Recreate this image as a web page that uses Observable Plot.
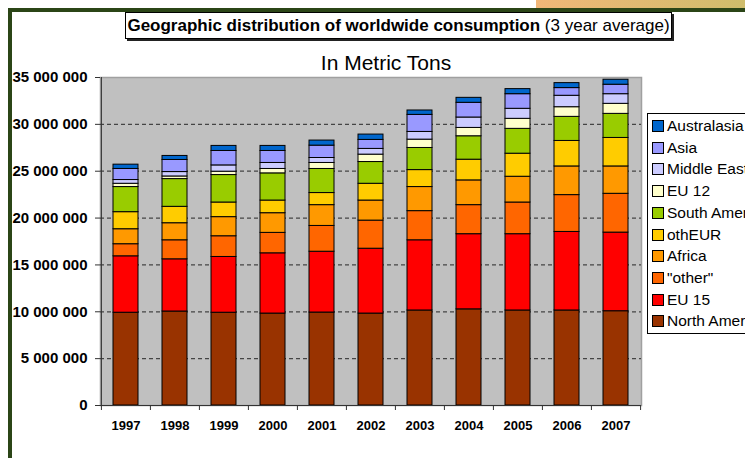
<!DOCTYPE html>
<html><head><meta charset="utf-8">
<script src="https://cdn.jsdelivr.net/npm/d3@7"></script>
<script src="https://cdn.jsdelivr.net/npm/@observablehq/plot@0.6"></script>
<style>
html,body{margin:0;padding:0;background:#fff;overflow:hidden;}
#wrap{position:relative;width:745px;height:458px;overflow:hidden;font-family:"Liberation Sans",Arial,sans-serif;color:#000;}
#wrap svg{position:absolute;left:0;top:0;}
#wrap svg text{font-weight:bold;}
.abs{position:absolute;}
#grad{left:536px;top:0;width:209px;height:8px;background:linear-gradient(to right,#F1B778,#CFBD6C);}
#ftop{left:8px;top:8px;width:737px;height:4px;background:#2B4517;}
#fleft{left:8px;top:8px;width:4px;height:450px;background:#2B4517;}
#title{left:125px;top:12px;width:545px;height:25px;border:1px solid #000;background:#fff;box-shadow:2px 2px 0 #222;font-size:17px;line-height:25px;text-align:center;white-space:nowrap;}
#sub{left:250px;top:50px;width:272px;text-align:center;font-size:21px;line-height:26px;}
#legend{left:647px;top:113px;width:120px;height:219px;border:1px solid #000;background:#fff;}
.item{position:absolute;left:0;height:18px;white-space:nowrap;font-size:15.5px;line-height:18px;}
.sw{position:absolute;left:4px;top:3px;width:10px;height:10px;border:1px solid #000;}
.lab{position:absolute;left:19px;top:0;}
</style></head><body><div id="wrap"></div>
<script>
const years = ["1997","1998","1999","2000","2001","2002","2003","2004","2005","2006","2007"];
// values in millions of metric tons
const northAmerica = [9.90, 10.03, 9.90, 9.81, 9.92, 9.81, 10.14, 10.26, 10.14, 10.14, 10.06];
const eu15         = [6.02, 5.57, 5.95, 6.43, 6.49, 6.92, 7.49, 8.02, 8.14, 8.38, 8.39];
const other        = [1.29, 2.03, 2.21, 2.18, 2.75, 3.00, 3.11, 3.10, 3.38, 3.93, 4.14];
const africa       = [1.60, 1.82, 2.04, 2.10, 2.22, 2.14, 2.57, 2.64, 2.75, 3.06, 2.92];
const othEUR       = [1.82, 1.75, 1.56, 1.35, 1.29, 1.79, 1.81, 2.21, 2.46, 2.72, 3.04];
const southAmerica = [2.68, 2.96, 2.93, 2.90, 2.57, 2.32, 2.36, 2.50, 2.65, 2.57, 2.57];
const eu12         = [0.35, 0.28, 0.36, 0.47, 0.64, 0.79, 0.89, 0.89, 1.07, 1.03, 1.07];
const middleEast   = [0.40, 0.47, 0.67, 0.64, 0.53, 0.61, 0.82, 1.11, 1.07, 1.22, 1.03];
const asia         = [1.18, 1.29, 1.54, 1.28, 1.32, 0.96, 1.82, 1.57, 1.56, 0.82, 1.01];
const australasia  = [0.46, 0.43, 0.54, 0.54, 0.54, 0.57, 0.47, 0.53, 0.54, 0.53, 0.53];

// legend order (top to bottom)
const regions = ["Australasia","Asia","Middle East","EU 12","South America","othEUR","Africa","\"other\"","EU 15","North America"];
const colors  = ["#0066CC","#9999FF","#CCCCFF","#FFFFCC","#99CC00","#FFCC00","#FF9900","#FF6600","#FF0000","#993300"];
const seriesValues = [australasia, asia, middleEast, eu12, southAmerica, othEUR, africa, other, eu15, northAmerica];
const yTicks = [0, 5e6, 10e6, 15e6, 20e6, 25e6, 30e6, 35e6];

const title = "Geographic distribution of worldwide consumption";
const titleNote = "(3 year average)";
const subtitle = "In Metric Tons";

// build long table, bottom series first
const table = [];
for (let s = regions.length - 1; s >= 0; s--) {
  years.forEach((yr, i) => table.push({year: yr, region: regions[s], value: seriesValues[s][i] * 1e6}));
}

const W = 745, H = 458, mL = 100, mR = 104, mT = 77, mB = 53;
const step = (W - mL - mR) / years.length;
const fmt = d => d3.format(",")(d).replace(/,/g, " ");

const chart = Plot.plot({
  width: W, height: H,
  marginLeft: mL, marginRight: mR, marginTop: mT, marginBottom: mB,
  style: {background: "transparent", fontFamily: "Liberation Sans, Arial, sans-serif", overflow: "visible"},
  x: {type: "band", domain: years, paddingInner: 0.49, paddingOuter: 0.245, axis: null, label: null},
  y: {domain: [0, 35e6], axis: null, label: null},
  color: {domain: regions, range: colors},
  marks: [
    Plot.frame({fill: "#C0C0C0", stroke: "#A0A0A0", strokeWidth: 1.5}),
    Plot.gridY(yTicks.filter(d => d > 0 && d < 35e6), {stroke: "#444", strokeOpacity: 1, strokeWidth: 1.3, strokeDasharray: "4,3"}),
    Plot.barY(table, Plot.stackY({x: "year", y: "value", fill: "region", stroke: "#000", strokeWidth: 1})),
    Plot.ruleY([0], {stroke: "#333", strokeWidth: 1}),
    Plot.ruleX([years[0]], {dx: -step / 2, stroke: "#333", strokeWidth: 1}),
    Plot.axisY({ticks: yTicks, tickSize: 5, tickPadding: 8, tickFormat: fmt, fontSize: 15, fontWeight: "bold", stroke: "#333", fill: "#000", label: null}),
    Plot.axisX({tickSize: 0, tickPadding: 15, fontSize: 13, fontWeight: "bold", fill: "#000", label: null}),
    Plot.axisX({tickSize: 5, tickFormat: () => "", dx: -step / 2, stroke: "#333", label: null}),
    Plot.axisX([years[years.length - 1]], {tickSize: 5, tickFormat: () => "", dx: step / 2, stroke: "#333", label: null})
  ]
});

const wrap = document.getElementById("wrap");
wrap.appendChild(chart);

function add(id, html) {
  const d = document.createElement("div");
  d.className = "abs"; d.id = id;
  if (html !== undefined) d.innerHTML = html;
  wrap.appendChild(d);
  return d;
}
add("grad");
add("title", "<b>" + title + "</b> " + titleNote);
add("sub", subtitle);
const lg = add("legend");
regions.forEach((r, i) => {
  const it = document.createElement("div");
  it.className = "item";
  it.style.top = (3 + i * 21.7) + "px";
  it.innerHTML = '<span class="sw" style="background:' + colors[i] + '"></span><span class="lab"></span>';
  it.querySelector(".lab").textContent = r;
  lg.appendChild(it);
});
add("ftop");
add("fleft");
</script>
</body></html>
